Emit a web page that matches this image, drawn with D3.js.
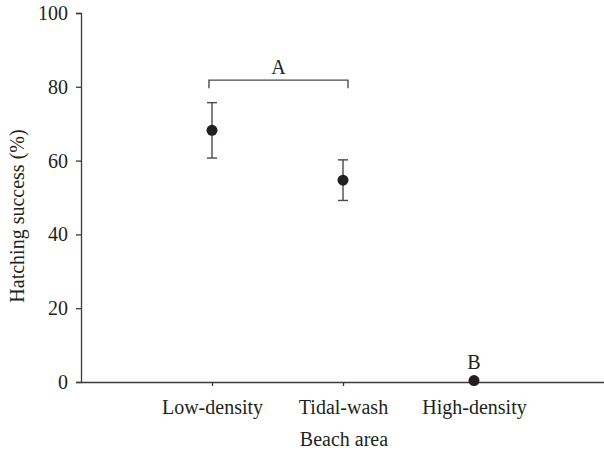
<!DOCTYPE html>
<html>
<head>
<meta charset="utf-8">
<script src="https://cdn.jsdelivr.net/npm/d3@7"></script>
<style>
  body { margin: 0; background: #fff; }
  text { font-family: "Liberation Serif", "Times New Roman", serif; fill: #231f20; }
</style>
</head>
<body>
<div id="chart"></div>
<script>
// data
const categories = ["Low-density", "Tidal-wash", "High-density"]
const means = [68.2, 54.7, 0.4]
const errors = [7.5, 5.5, 0]
const yTicks = [0, 20, 40, 60, 80, 100]
const groupLabels = ["A", "A", "B"]
const bracketLevel = 81.8

const width = 604
const height = 453
const fontSize = "20px"

const svg = d3.select("#chart")
  .append("svg")
  .attr("width", width)
  .attr("height", height)

const x = d3.scalePoint()
  .domain(categories)
  .range([81, 605])
  .padding(1)

const y = d3.scaleLinear()
  .domain([0, 100])
  .range([382, 13])

// y axis
const yAxis = svg.append("g")
  .attr("transform", "translate(81,0)")
  .call(d3.axisLeft(y).tickValues(yTicks).tickSize(5).tickPadding(8))
yAxis.select(".domain").attr("stroke", "#3a3a3a").attr("stroke-width", 1.3)
yAxis.selectAll(".tick line").attr("stroke", "#3a3a3a").attr("stroke-width", 1.3)
yAxis.selectAll(".tick text")
  .attr("fill", "#231f20")
  .style("font-size", fontSize)
  .style("font-family", "'Liberation Serif', serif")

// x axis
const xAxis = svg.append("g")
  .attr("transform", "translate(0,382)")
  .call(d3.axisBottom(x).tickSize(4).tickPadding(14).tickSizeOuter(0))
xAxis.select(".domain").attr("stroke", "#3a3a3a").attr("stroke-width", 1.3)
xAxis.selectAll(".tick line").attr("stroke", "#3a3a3a").attr("stroke-width", 1.3)
xAxis.selectAll(".tick text")
  .attr("fill", "#231f20")
  .style("font-size", fontSize)
  .style("font-family", "'Liberation Serif', serif")

// axis titles
svg.append("text")
  .attr("x", 344)
  .attr("y", 446)
  .attr("text-anchor", "middle")
  .style("font-size", fontSize)
  .text("Beach area")

svg.append("text")
  .attr("transform", "translate(24,216) rotate(-90)")
  .attr("text-anchor", "middle")
  .style("font-size", fontSize)
  .text("Hatching success (%)")

const rows = categories.map((c, i) => ({ cat: c, mean: means[i], err: errors[i], label: groupLabels[i] }))

// error bars
const bars = svg.selectAll(".err")
  .data(rows.filter(d => d.err > 0))
  .enter()
  .append("g")
  .attr("class", "err")
  .attr("stroke", "#4a4a4a")
  .attr("stroke-width", 1.4)

bars.append("line")
  .attr("x1", d => x(d.cat)).attr("x2", d => x(d.cat))
  .attr("y1", d => y(d.mean - d.err)).attr("y2", d => y(d.mean + d.err))
bars.append("line")
  .attr("x1", d => x(d.cat) - 5).attr("x2", d => x(d.cat) + 5)
  .attr("y1", d => y(d.mean + d.err)).attr("y2", d => y(d.mean + d.err))
bars.append("line")
  .attr("x1", d => x(d.cat) - 5).attr("x2", d => x(d.cat) + 5)
  .attr("y1", d => y(d.mean - d.err)).attr("y2", d => y(d.mean - d.err))

// points
svg.selectAll(".pt")
  .data(rows)
  .enter()
  .append("circle")
  .attr("class", "pt")
  .attr("cx", d => x(d.cat))
  .attr("cy", d => y(d.mean))
  .attr("r", 5.5)
  .attr("fill", "#231f20")

// bracket for group A
const aRows = rows.filter(d => d.label === "A")
const bx1 = x(aRows[0].cat) - 3
const bx2 = x(aRows[aRows.length - 1].cat) + 5
const by = y(bracketLevel)
svg.append("path")
  .attr("d", `M${bx1},${by + 8}V${by}H${bx2}V${by + 8}`)
  .attr("fill", "none")
  .attr("stroke", "#4a4a4a")
  .attr("stroke-width", 1.4)

svg.append("text")
  .attr("x", (bx1 + bx2) / 2)
  .attr("y", by - 6)
  .attr("text-anchor", "middle")
  .style("font-size", fontSize)
  .text("A")

// label for group B
rows.filter(d => d.label === "B").forEach(d => {
  svg.append("text")
    .attr("x", x(d.cat))
    .attr("y", y(d.mean) - 12)
    .attr("text-anchor", "middle")
    .style("font-size", fontSize)
    .text(d.label)
})
</script>
</body>
</html>
